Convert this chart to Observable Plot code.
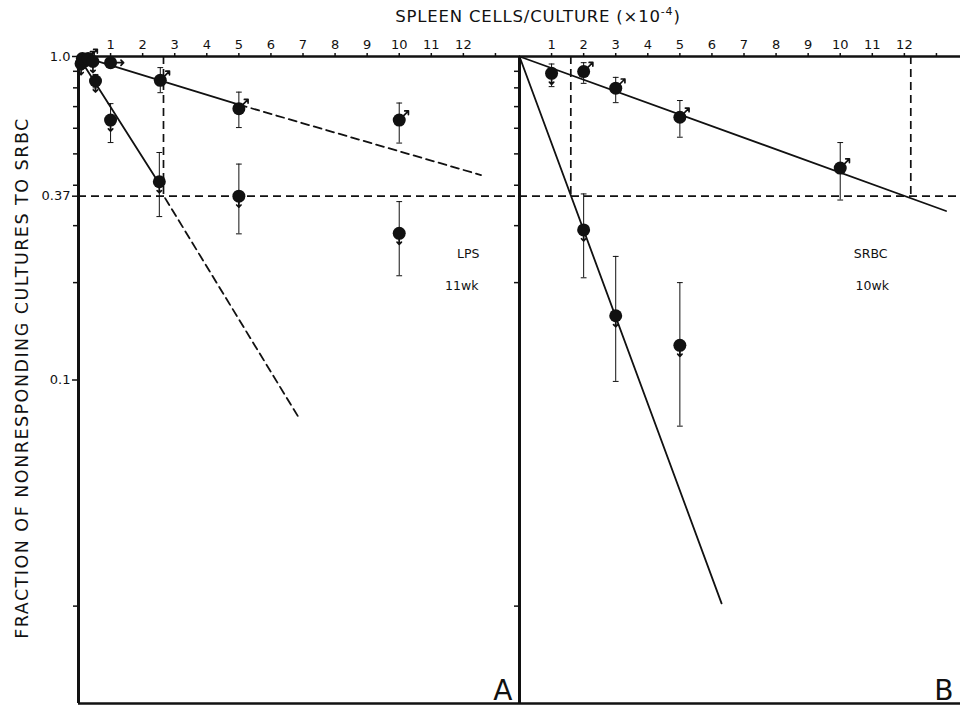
<!DOCTYPE html>
<html>
<head>
<meta charset="utf-8">
<script src="https://cdn.jsdelivr.net/npm/d3@7"></script>
<script src="https://cdn.jsdelivr.net/npm/@observablehq/plot@0.6"></script>
<style>
  html, body { margin: 0; padding: 0; background: #fff; }
  #wrap { position: relative; width: 962px; height: 705px; font-family: "DejaVu Sans", sans-serif; color: #111; }
  #xtitle { position: absolute; top: 5px; left: 538px; transform: translateX(-50%); font-size: 16.5px; white-space: nowrap; letter-spacing: 0.8px; }
  #ytitle { position: absolute; left: 22px; top: 378px; transform: translate(-50%, -50%) rotate(-90deg); font-size: 17.5px; white-space: nowrap; letter-spacing: 1.5px; }
</style>
</head>
<body>
<div id="wrap">
  <div id="chart"></div>
  <div id="xtitle">SPLEEN CELLS/CULTURE (×10<sup style="font-size:11px">-4</sup>)</div>
  <div id="ytitle">FRACTION OF NONRESPONDING CULTURES TO SRBC</div>
</div>
<script>
// ---- data ----
const panels = ["A", "B"];

// data points (cells/culture ×10^-4, fraction nonresponding)
const ptPanel = ["A","A","A","A","A","A","A","A","A","A","A","A","A","A", "B","B","B","B","B","B","B","B"];
const ptX     = [0.08, 0.2, 0.12, 0.3, 0.45, 0.53, 1.0, 1.0, 2.55, 2.52, 5.0, 5.0, 10.0, 10.0, 1.0, 2.0, 3.0, 5.0, 10.0, 2.0, 3.0, 5.0];
const ptY     = [0.95, 0.97, 0.985, 0.985, 0.965, 0.84, 0.957, 0.636, 0.844, 0.41, 0.69, 0.37, 0.636, 0.284, 0.887, 0.898, 0.798, 0.649, 0.452, 0.291, 0.158, 0.128];
const ptLo    = [null, null, null, null, null, 0.80, 0.93, 0.542, 0.773, 0.32, 0.603, 0.283, 0.54, 0.21, 0.807, 0.826, 0.72, 0.563, 0.36, 0.207, 0.099, 0.072];
const ptHi    = [null, null, null, null, null, 0.88, 0.99, 0.715, 0.924, 0.505, 0.776, 0.465, 0.718, 0.356, 0.948, 0.957, 0.862, 0.731, 0.542, 0.376, 0.241, 0.20];
const ptSex   = ["f","m","f","m","f","f","m","f","m","f","m","f","m","f", "f","m","m","m","m","f","f","f"];
const ptRot   = [45, 45, 45, 45, 45, 45, 90, 45, 45, 45, 45, 45, 45, 45, 45, 45, 45, 45, 45, 45, 45, 45];

// fitted lines (endpoints)
const lnPanel = ["A","A","A","A","A","A","A","A","B","B","B","B"];
const lnId    = ["a1","a1","a2","a2","a3","a3","a4","a4","b1","b1","b2","b2"];
const lnDash  = [false,false,true,true,false,false,true,true,false,false,false,false];
const lnX     = [0.4, 5.0, 5.0, 12.55, 0, 2.55, 2.7, 6.85, 0, 13.3, 0, 6.3];
const lnY     = [0.98, 0.71, 0.71, 0.43, 1.0, 0.40, 0.365, 0.077, 1.0, 0.333, 1.0, 0.0204];

// 37% reference lines
const refLevel = 0.37;
const vPanel = ["A", "B", "B"];
const vX     = [2.65, 1.6, 12.2];

// annotations
const annPanel = ["A", "A", "B", "B"];
const annX     = [12.15, 11.95, 10.95, 11.0];
const annY     = [0.246, 0.195, 0.246, 0.195];
const annText  = ["LPS", "11wk", "SRBC", "10wk"];

// axis ticks
const xTicks = [1,2,3,4,5,6,7,8,9,10,11,12,13];
const yLabeled = [1, 0.37, 0.1];
const yMinor = [0.9, 0.8, 0.7, 0.6, 0.5, 0.4, 0.3, 0.2, 0.02];

// ---- tables ----
const pts = ptX.map((x, i) => ({panel: ptPanel[i], x, y: ptY[i], lo: ptLo[i], hi: ptHi[i], sex: ptSex[i], rot: ptRot[i]}));
const errs = pts.filter(d => d.lo != null);
const lines = lnX.map((x, i) => ({panel: lnPanel[i], id: lnId[i], dash: lnDash[i], x, y: lnY[i]}));
const vrefs = vX.map((x, i) => ({panel: vPanel[i], x}));
const anns = annX.map((x, i) => ({panel: annPanel[i], x, y: annY[i], text: annText[i]}));

const ink = "#111";
const dash = "8,5";
const capW = 0.09;

const chart = Plot.plot({
  width: 962,
  height: 705,
  marginTop: 56,
  marginLeft: 78,
  marginRight: 2,
  marginBottom: 2,
  style: {fontFamily: "DejaVu Sans, sans-serif", color: ink, background: "#fff"},
  fx: {domain: panels, padding: 0, axis: null},
  x: {domain: [0, 13.75], axis: null},
  y: {type: "log", domain: [0.01, 1], axis: null},
  marks: [
    // axes
    Plot.axisX({anchor: "top", ticks: xTicks, tickSize: 4, tickPadding: 4, fontSize: 13,
      tickFormat: d => d <= 12 ? String(d) : "", label: null, strokeWidth: 1.5}),
    Plot.axisY({ticks: yMinor, tickFormat: () => "", tickSize: 5, label: null, facetAnchor: null, strokeWidth: 1.5}),
    Plot.axisY({ticks: yLabeled, tickFormat: d => d === 1 ? "1.0" : String(d), tickSize: 6, tickPadding: 2,
      fontSize: 13, label: null, facetAnchor: "left", strokeWidth: 1.5}),
    Plot.ruleY([1], {stroke: ink, strokeWidth: 2.6}),
    Plot.ruleY([0.01], {stroke: ink, strokeWidth: 2.4}),
    Plot.ruleX([0], {stroke: ink, strokeWidth: 3}),

    // 37% reference dashes
    Plot.ruleY([refLevel], {stroke: ink, strokeWidth: 1.7, strokeDasharray: dash}),
    Plot.ruleX(vrefs, {fx: "panel", x: "x", y1: 1, y2: refLevel, stroke: ink, strokeWidth: 1.7, strokeDasharray: dash}),

    // fitted lines
    Plot.line(lines.filter(d => !d.dash), {fx: "panel", x: "x", y: "y", z: "id", stroke: ink, strokeWidth: 1.8}),
    Plot.line(lines.filter(d => d.dash), {fx: "panel", x: "x", y: "y", z: "id", stroke: ink, strokeWidth: 1.8, strokeDasharray: dash}),

    // error bars
    Plot.ruleX(errs, {fx: "panel", x: "x", y1: "lo", y2: "hi", stroke: ink, strokeWidth: 1}),
    Plot.link(errs, {fx: "panel", x1: d => d.x - capW, x2: d => d.x + capW, y1: "hi", y2: "hi", stroke: ink, strokeWidth: 1}),
    Plot.link(errs, {fx: "panel", x1: d => d.x - capW, x2: d => d.x + capW, y1: "lo", y2: "lo", stroke: ink, strokeWidth: 1}),

    // sex symbols
    Plot.vector(pts.filter(d => d.sex === "m"), {fx: "panel", x: "x", y: "y", rotate: "rot", length: 13, anchor: "start", stroke: ink, strokeWidth: 1.7}),
    Plot.vector(pts.filter(d => d.sex === "f"), {fx: "panel", x: "x", y: "y", rotate: 180, length: 11, anchor: "start", stroke: ink, strokeWidth: 1.7}),

    // points
    Plot.dot(pts, {fx: "panel", x: "x", y: "y", r: 6.5, fill: ink, stroke: "none"}),

    // annotations
    Plot.text(anns, {fx: "panel", x: "x", y: "y", text: "text", fontSize: 12.5, fill: ink}),
    Plot.text(panels, {fx: d => d, text: d => d, frameAnchor: "bottom-right", dx: -7, dy: -4,
      lineAnchor: "bottom", textAnchor: "end", fontSize: 28, fill: ink})
  ]
});
document.getElementById("chart").appendChild(chart);
</script>
</body>
</html>
